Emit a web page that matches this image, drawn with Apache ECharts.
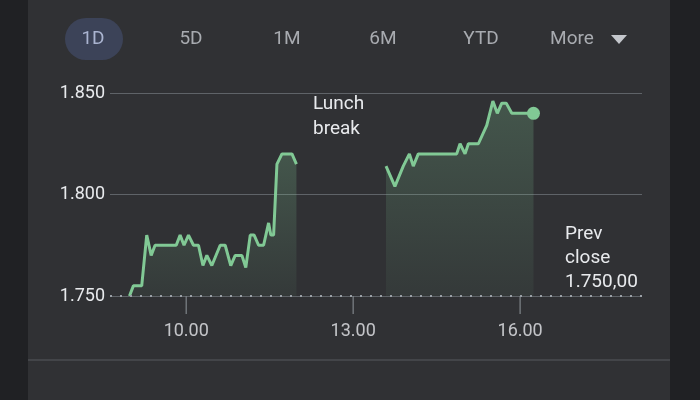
<!DOCTYPE html>
<html>
<head>
<meta charset="utf-8">
<script src="https://cdn.jsdelivr.net/npm/echarts@6/dist/echarts.min.js"></script>
<style>
  html, body { margin: 0; padding: 0; background: #202124; }
  #chart { width: 700px; height: 400px; }
</style>
</head>
<body>
<div id="chart"></div>
<script>
// time in hours, price
var morningTimes = [8.98, 9.05, 9.20, 9.29, 9.37, 9.44, 9.82, 9.89, 9.96, 10.04, 10.13, 10.22, 10.30, 10.37, 10.46, 10.61, 10.70, 10.80, 10.88, 11.00, 11.07, 11.15, 11.22, 11.30, 11.39, 11.48, 11.52, 11.57, 11.63, 11.72, 11.90, 11.98];
var morningPrices = [1.750, 1.755, 1.755, 1.780, 1.770, 1.775, 1.775, 1.780, 1.775, 1.780, 1.775, 1.775, 1.765, 1.770, 1.765, 1.775, 1.775, 1.765, 1.770, 1.770, 1.764, 1.780, 1.780, 1.775, 1.775, 1.786, 1.780, 1.780, 1.815, 1.820, 1.820, 1.815];
var afternoonTimes = [13.59, 13.75, 13.90, 14.01, 14.08, 14.17, 14.86, 14.92, 15.01, 15.07, 15.25, 15.40, 15.51, 15.59, 15.67, 15.75, 15.85, 16.24];
var afternoonPrices = [1.814, 1.804, 1.814, 1.820, 1.814, 1.820, 1.820, 1.825, 1.820, 1.825, 1.825, 1.834, 1.846, 1.840, 1.845, 1.845, 1.840, 1.840];
var prevClose = 1.750;
var xTicks = [10, 13, 16];
var yTicks = [1.750, 1.800, 1.850];
var ranges = ['1D', '5D', '1M', '6M', 'YTD', 'More'];

function zip(xs, ys) {
  return xs.map(function (x, i) { return [x, ys[i]]; });
}

var chart = echarts.init(document.getElementById('chart'));
var green = '#81c995';
var fill = new echarts.graphic.LinearGradient(0, 0, 0, 1, [
  { offset: 0, color: 'rgba(129,201,149,0.35)' },
  { offset: 1, color: 'rgba(129,201,149,0.08)' }
]);

var rangeX = [93, 191, 287, 383, 481, 572];
var graphics = [
  { type: 'rect', shape: { x: 28, y: 0, width: 642, height: 400 }, style: { fill: '#303134' }, z: -10 },
  { type: 'rect', shape: { x: 65, y: 18, width: 58, height: 42, r: 21 }, style: { fill: '#3c4358' }, z: -5 },
  { type: 'polygon', shape: { points: [[611, 35], [627, 35], [619, 44]] }, style: { fill: '#c4c7cc' } },
  { type: 'line', shape: { x1: 28, y1: 360, x2: 670, y2: 360 }, style: { stroke: '#4a4d51', lineWidth: 1.5 } },
  { type: 'text', x: 313, y: 92, style: { text: 'Lunch\nbreak', fill: '#e8eaed', font: '19px Roboto', lineHeight: 25 } },
  { type: 'text', x: 565, y: 222, style: { text: 'Prev\nclose\n1.750,00', fill: '#e8eaed', font: '19px Roboto', lineHeight: 24 } }
];
ranges.forEach(function (r, i) {
  graphics.push({
    type: 'text', x: rangeX[i], y: 39,
    style: { text: r, fill: i === 0 ? '#aab4d0' : '#a8abb0', font: '19px Roboto', align: 'center', verticalAlign: 'middle' }
  });
});

chart.setOption({
  backgroundColor: '#202124',
  animation: false,
  graphic: graphics,
  grid: { left: 110, right: 58, top: 93, bottom: 104 },
  xAxis: {
    type: 'value', min: 8.63, max: 18.19,
    axisLine: { show: false },
    splitLine: { show: false },
    axisTick: { show: false },
    axisLabel: { show: false }
  },
  yAxis: {
    type: 'value', min: 1.750, max: 1.850, interval: 0.05,
    axisLine: { show: false },
    axisTick: { show: false },
    splitLine: { lineStyle: { color: '#5f6368', width: 1.2 } },
    axisLabel: { color: '#e8eaed', fontSize: 18, fontFamily: 'Roboto', margin: 5,
      formatter: function (v) { return v.toFixed(3); } }
  },
  series: [
    {
      type: 'line', data: zip(morningTimes, morningPrices), showSymbol: false,
      lineStyle: { color: green, width: 3 }, areaStyle: { color: fill, origin: 'start' }, z: 3
    },
    {
      type: 'line', data: zip(afternoonTimes, afternoonPrices), showSymbol: false,
      lineStyle: { color: green, width: 3 }, areaStyle: { color: fill, origin: 'start' }, z: 3,
      markPoint: {
        symbol: 'circle', symbolSize: 13, itemStyle: { color: green }, label: { show: false },
        data: [{ coord: [afternoonTimes[afternoonTimes.length - 1], afternoonPrices[afternoonPrices.length - 1]] }]
      }
    },
    {
      type: 'scatter', data: xTicks.map(function (t) { return [t, prevClose]; }),
      symbol: 'rect', symbolSize: [1.5, 18], symbolOffset: [0, 9],
      itemStyle: { color: '#80868b' }, silent: true,
      label: { show: true, position: 'bottom', distance: 8, color: '#e8eaed', fontSize: 18, fontFamily: 'Roboto',
        formatter: function (p) { return p.value[0].toFixed(2); } }
    },
    {
      type: 'line', data: [], silent: true,
      markLine: {
        symbol: 'none', silent: true, label: { show: false },
        lineStyle: { color: '#9aa0a6', type: [2, 8], width: 2 },
        data: [{ yAxis: prevClose }]
      }
    }
  ]
});
</script>
</body>
</html>
